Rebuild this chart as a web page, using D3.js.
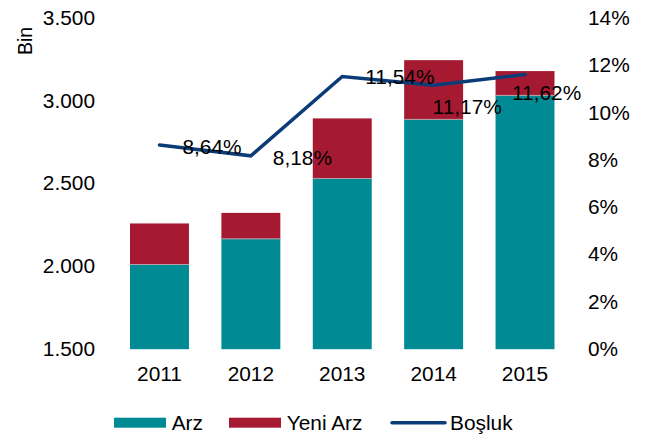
<!DOCTYPE html>
<html>
<head>
<meta charset="utf-8">
<script src="https://cdn.jsdelivr.net/npm/d3@7"></script>
<style>
  html, body { margin: 0; padding: 0; background: #fff; }
  svg { display: block; }
  text { font-family: "Liberation Sans", Arial, sans-serif; fill: #000; }
</style>
</head>
<body>
<div id="chart"></div>
<script>
// ---- data ----
const years = ["2011", "2012", "2013", "2014", "2015"];
const arz = [2012, 2167, 2532, 2889, 3034];
const yeniArz = [248, 157, 363, 358, 147];
const bosluk = [8.64, 8.18, 11.54, 11.17, 11.62];
const boslukLabels = ["8,64%", "8,18%", "11,54%", "11,17%", "11,62%"];
const leftTicks = [1500, 2000, 2500, 3000, 3500];
const leftTickLabels = ["1.500", "2.000", "2.500", "3.000", "3.500"];
const rightTicks = [0, 2, 4, 6, 8, 10, 12, 14];
const rightTickLabels = ["0%", "2%", "4%", "6%", "8%", "10%", "12%", "14%"];
const legendNames = ["Arz", "Yeni Arz", "Boşluk"];

// ---- layout / style (not data) ----
const W = 654, H = 438;
const SX = 1.07;               // horizontal stretch of the original picture
const px = v => v / SX;        // pixel x -> viewBox x
const colArz = "#008B94", colYeni = "#A51A30", colLine = "#0B3C78";
const fontSize = 19.5;
const labelOffsets = [[23, 2], [22, 2], [23, 1], [-1, 22], [-13, 18]];

const svg = d3.select("#chart").append("svg")
  .attr("width", W).attr("height", H)
  .attr("viewBox", `0 0 ${W / SX} ${H}`)
  .attr("preserveAspectRatio", "none");

const x = d3.scaleBand().domain(years)
  .range([px(113.8), px(570.7)])
  .paddingInner(0.355).paddingOuter(0.1775);
const yL = d3.scaleLinear().domain([1500, 3500]).range([349.2, 18.3]);
const yR = d3.scaleLinear().domain([0, 14]).range([349.2, 18.3]);

// bars
const g = svg.append("g");
years.forEach((yr, i) => {
  g.append("rect")
    .attr("x", x(yr)).attr("width", x.bandwidth())
    .attr("y", yL(arz[i])).attr("height", yL(1500) - yL(arz[i]))
    .attr("fill", colArz);
  g.append("rect")
    .attr("x", x(yr)).attr("width", x.bandwidth())
    .attr("y", yL(arz[i] + yeniArz[i])).attr("height", yL(arz[i]) - yL(arz[i] + yeniArz[i]))
    .attr("fill", colYeni);
  g.append("line")
    .attr("x1", x(yr)).attr("x2", x(yr) + x.bandwidth())
    .attr("y1", yL(arz[i])).attr("y2", yL(arz[i]))
    .attr("stroke", "#b8a0a8").attr("stroke-width", 1)
    .attr("vector-effect", "non-scaling-stroke");
});

// axes
const axL = d3.axisLeft(yL).tickValues(leftTicks)
  .tickFormat((d, i) => leftTickLabels[i]).tickSize(0).tickPadding(0);
const gL = svg.append("g").attr("transform", `translate(${px(95)},0)`).call(axL);
const axR = d3.axisRight(yR).tickValues(rightTicks)
  .tickFormat((d, i) => rightTickLabels[i]).tickSize(0).tickPadding(0);
const gR = svg.append("g").attr("transform", `translate(${px(588)},0)`).call(axR);
const axB = d3.axisBottom(x).tickSize(0).tickPadding(18);
const gB = svg.append("g").attr("transform", `translate(0,349.2)`).call(axB);
[gL, gR, gB].forEach(a => {
  a.select(".domain").remove();
  a.selectAll("text").attr("font-size", fontSize)
    .attr("font-family", '"Liberation Sans", Arial, sans-serif').attr("fill", "#000");
});

// Bin label
svg.append("text")
  .attr("transform", `translate(${px(31.5)},41) rotate(-90)`)
  .attr("text-anchor", "middle")
  .attr("font-size", fontSize)
  .text("Bin");

// line
const cx = yr => x(yr) + x.bandwidth() / 2;
const line = d3.line().x((d, i) => cx(years[i])).y(d => yR(d));
svg.append("path").datum(bosluk)
  .attr("d", line)
  .attr("fill", "none").attr("stroke", colLine)
  .attr("stroke-width", 3.5)
  .attr("stroke-linejoin", "miter").attr("stroke-linecap", "round")
  .attr("vector-effect", "non-scaling-stroke");

// data labels
bosluk.forEach((v, i) => {
  svg.append("text")
    .attr("x", cx(years[i]) + px(labelOffsets[i][0]))
    .attr("y", yR(v) + labelOffsets[i][1])
    .attr("dy", "0.36em")
    .attr("font-size", fontSize)
    .text(boslukLabels[i]);
});

// legend
const lg = svg.append("g");
lg.append("rect").attr("x", px(114)).attr("y", 417.7).attr("width", px(52)).attr("height", 10).attr("fill", colArz);
lg.append("text").attr("x", px(171.7)).attr("y", 423).attr("dy", "0.36em").attr("font-size", fontSize).text(legendNames[0]);
lg.append("rect").attr("x", px(229)).attr("y", 417.7).attr("width", px(52)).attr("height", 10).attr("fill", colYeni);
lg.append("text").attr("x", px(286.7)).attr("y", 423).attr("dy", "0.36em").attr("font-size", fontSize).text(legendNames[1]);
lg.append("line").attr("x1", px(392)).attr("x2", px(445)).attr("y1", 422.7).attr("y2", 422.7)
  .attr("stroke", colLine).attr("stroke-width", 3.5).attr("stroke-linecap", "round")
  .attr("vector-effect", "non-scaling-stroke");
lg.append("text").attr("x", px(450)).attr("y", 423).attr("dy", "0.36em").attr("font-size", fontSize).text(legendNames[2]);
</script>
</body>
</html>
